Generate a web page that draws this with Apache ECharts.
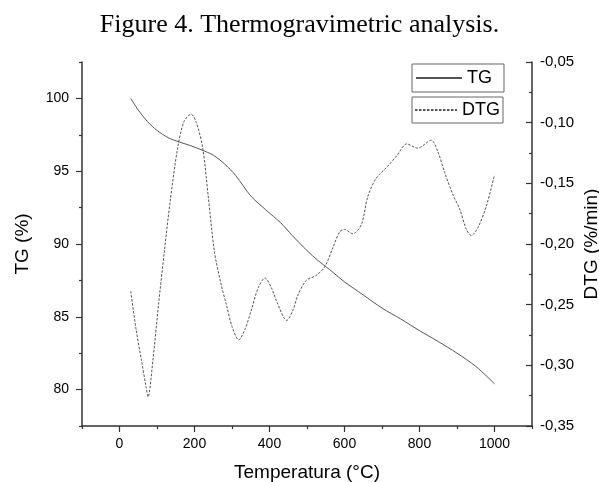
<!DOCTYPE html>
<html>
<head>
<meta charset="utf-8">
<script src="https://cdn.jsdelivr.net/npm/echarts@6/dist/echarts.min.js"></script>
<style>
html,body{margin:0;padding:0;background:#fff;}
#chart{width:599px;height:482px;}
</style>
</head>
<body>
<div id="chart"></div>
<script>
// TG curve: temperature (°C) and mass (%)
var tgTemp = [30, 50, 75, 100, 130, 160, 190, 220, 250, 280, 310, 350, 390, 430, 460, 500, 530, 560, 600, 650, 700, 750, 800, 850, 900, 950, 1000];
var tgValue = [100.0, 99.2, 98.4, 97.8, 97.3, 97.0, 96.75, 96.45, 96.1, 95.5, 94.7, 93.3, 92.35, 91.45, 90.6, 89.55, 88.85, 88.25, 87.4, 86.5, 85.6, 84.85, 84.05, 83.3, 82.5, 81.6, 80.4];

// DTG curve: temperature (°C) and rate (%/min)
var dtgTemp = [30, 44, 58, 71, 76, 89, 104, 120, 135, 155, 172, 191, 205, 222, 236, 253, 270, 285, 300, 318, 335, 350, 370, 388, 405, 420, 446, 462, 476, 498, 524, 547, 569, 587, 600, 622, 645, 662, 684, 715, 740, 766, 795, 831, 849, 867, 890, 907, 925, 938, 955, 978, 1000];
var dtgValue = [-0.239, -0.270, -0.295, -0.318, -0.326, -0.296, -0.250, -0.205, -0.165, -0.121, -0.099, -0.093, -0.100, -0.121, -0.159, -0.206, -0.232, -0.250, -0.268, -0.279, -0.270, -0.256, -0.236, -0.228, -0.236, -0.248, -0.263, -0.255, -0.242, -0.230, -0.226, -0.219, -0.203, -0.190, -0.188, -0.1915, -0.184, -0.161, -0.146, -0.136, -0.127, -0.1175, -0.121, -0.1145, -0.124, -0.141, -0.160, -0.171, -0.188, -0.193, -0.187, -0.169, -0.143];

// Axis settings
var xMin = -100, xMax = 1100;
var tgMin = 77.5, tgMax = 102.5;
var dtgMin = -0.35, dtgMax = -0.05;

var titleText = 'Figure 4. Thermogravimetric analysis.';
var xName = 'Temperatura (°C)';
var tgName = 'TG (%)';
var dtgName = 'DTG (%/min)';

function pairs(xs, ys) {
  var out = [];
  for (var i = 0; i < xs.length; i++) out.push([xs[i], ys[i]]);
  return out;
}

var axisColor = '#333';
var sans = 'Liberation Sans';
var lineAxisBase = {
  axisLine: {show: true, onZero: false, lineStyle: {color: axisColor, width: 1.5}},
  splitLine: {show: false},
  minorSplitLine: {show: false}
};

var chart = echarts.init(document.getElementById('chart'));
chart.setOption({
  animation: false,
  backgroundColor: '#fff',
  title: {
    text: titleText,
    left: 'center',
    top: 7,
    textStyle: {fontFamily: 'Liberation Serif', fontSize: 26, fontWeight: 'normal', color: '#000'}
  },
  grid: {left: 82, right: 67, top: 62, bottom: 56, containLabel: false, outerBoundsMode: 'none'},
  legend: [
    {
      data: ['TG'],
      left: 412, top: 64,
      padding: [5, 12, 5, 3],
      itemWidth: 46, itemHeight: 12,
      borderColor: '#666', borderWidth: 1,
      itemStyle: {opacity: 0},
      textStyle: {fontFamily: sans, fontSize: 18, color: '#000'}
    },
    {
      data: ['DTG'],
      left: 412, top: 97,
      padding: [4, 3, 4, 2],
      itemWidth: 42, itemHeight: 12,
      borderColor: '#666', borderWidth: 1,
      itemStyle: {opacity: 0},
      textStyle: {fontFamily: sans, fontSize: 18, color: '#000'}
    }
  ],
  xAxis: [
    Object.assign({}, lineAxisBase, {
      type: 'value', min: xMin, max: xMax, interval: 200,
      position: 'bottom',
      name: xName, nameLocation: 'middle', nameGap: 37,
      nameTextStyle: {fontFamily: sans, fontSize: 19, color: '#000'},
      axisTick: {show: true, length: 3, lineStyle: {color: axisColor, width: 1.2}},
      minorTick: {show: true, splitNumber: 2, length: 6, lineStyle: {color: axisColor, width: 1.2}},
      axisLabel: {show: false}
    }),
    {
      type: 'value', min: xMin, max: xMax, interval: 100,
      position: 'bottom', offset: 0,
      axisLine: {show: false, onZero: false}, axisTick: {show: false}, splitLine: {show: false},
      axisLabel: {
        margin: 11, fontFamily: sans, fontSize: 14, color: '#000',
        formatter: function (v) { return (v >= 0 && v <= 1000 && v % 200 === 0) ? String(v) : ''; }
      }
    }
  ],
  yAxis: [
    Object.assign({}, lineAxisBase, {
      type: 'value', min: tgMin, max: tgMax, interval: 5,
      position: 'left',
      name: tgName, nameLocation: 'middle', nameGap: 50, nameRotate: 90,
      nameTextStyle: {fontFamily: sans, fontSize: 19, color: '#000'},
      axisTick: {show: true, length: 3, lineStyle: {color: axisColor, width: 1.2}},
      minorTick: {show: true, splitNumber: 2, length: 6, lineStyle: {color: axisColor, width: 1.2}},
      axisLabel: {show: false}
    }),
    {
      type: 'value', min: tgMin, max: tgMax, interval: 2.5,
      position: 'left', offset: 0,
      axisLine: {show: false, onZero: false}, axisTick: {show: false}, splitLine: {show: false},
      axisLabel: {
        margin: 13, fontFamily: sans, fontSize: 14, color: '#000',
        formatter: function (v) { return (v % 5 === 0) ? String(v) : ''; }
      }
    },
    Object.assign({}, lineAxisBase, {
      type: 'value', min: dtgMin, max: dtgMax, interval: 0.05,
      position: 'right', offset: 0,
      name: dtgName, nameLocation: 'middle', nameGap: 50, nameRotate: 90,
      nameMoveOverlap: false,
      nameTextStyle: {fontFamily: sans, fontSize: 19, color: '#000'},
      axisTick: {show: true, inside: true, length: 6, lineStyle: {color: axisColor, width: 1.2}},
      minorTick: {show: true, splitNumber: 2, length: 3, lineStyle: {color: axisColor, width: 1.2}},
      axisLabel: {
        margin: 8, fontFamily: sans, fontSize: 15, color: '#000',
        formatter: function (v) { return v.toFixed(2).replace('.', ','); }
      }
    })
  ],
  series: [
    {
      name: 'TG', type: 'line', xAxisIndex: 0, yAxisIndex: 0,
      data: pairs(tgTemp, tgValue),
      smooth: 0.3, symbol: 'none',
      lineStyle: {color: '#555', width: 1},
      itemStyle: {color: '#555'}
    },
    {
      name: 'DTG', type: 'line', xAxisIndex: 0, yAxisIndex: 2,
      data: pairs(dtgTemp, dtgValue),
      smooth: 0.3, symbol: 'none',
      lineStyle: {color: '#555', width: 1, type: [2.5, 1.5]},
      itemStyle: {color: '#555'}
    }
  ]
});
</script>
</body>
</html>
